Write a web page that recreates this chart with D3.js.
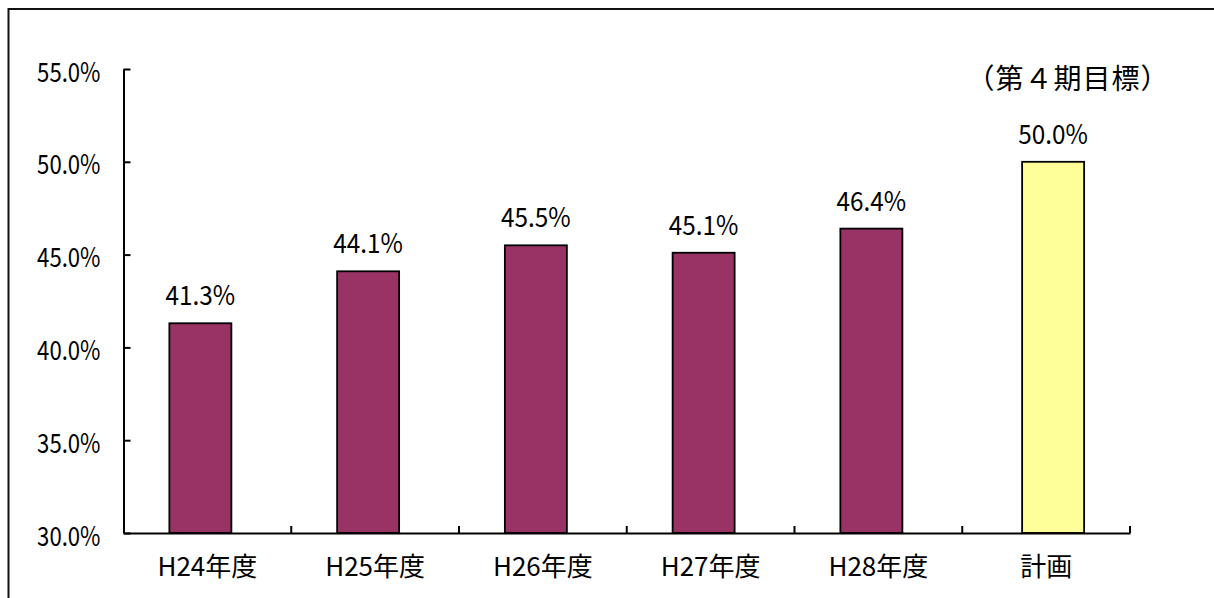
<!DOCTYPE html>
<html><head><meta charset="utf-8">
<script src="https://cdn.jsdelivr.net/npm/d3@7"></script>
<style>body{margin:0;background:#fff}svg{display:block}</style></head>
<body><svg id="c" width="1214" height="598"></svg>
<script>
const categories = ["H24年度","H25年度","H26年度","H27年度","H28年度","計画"];
const actualValues = [41.3, 44.1, 45.5, 45.1, 46.4, null];
const planValues = [null, null, null, null, null, 50.0];
const yTicks = [30, 35, 40, 45, 50, 55];
const planNote = "（第４期目標）";

const FONT = "'Noto Sans CJK JP', 'Noto Sans', sans-serif";
const svg = d3.select("#c");

// outer frame (extends past the right and bottom edges)
svg.append("rect").attr("x", 8.5).attr("y", 9).attr("width", 1400).attr("height", 800)
  .attr("fill", "none").attr("stroke", "#111").attr("stroke-width", 2);

const x = d3.scaleBand().domain(categories).range([123.5, 1130]).padding(0);
const y = d3.scaleLinear().domain([30, 55]).range([533, 69]);
const barW = 62;
const seriesOffset = {actual: -7, plan: 7};

// y axis
const yAxis = svg.append("g").attr("transform", "translate(123.5,0)")
  .call(d3.axisLeft(y).tickValues(yTicks).tickSizeInner(-7).tickSizeOuter(0).tickPadding(23)
    .tickFormat(d => d.toFixed(1) + "%"));
yAxis.selectAll("path,line").attr("stroke", "#000").attr("stroke-width", 2);
yAxis.selectAll("text").attr("font-family", FONT).attr("font-size", 27).attr("fill", "#000").attr("dy", 12);

// bars
function drawSeries(vals, key, fill) {
  const data = categories.map((c, i) => ({c, v: vals[i]})).filter(d => d.v != null);
  svg.append("g").selectAll("rect").data(data).join("rect")
    .attr("x", d => x(d.c) + x.bandwidth() / 2 + seriesOffset[key] - barW / 2)
    .attr("y", d => y(d.v))
    .attr("width", barW)
    .attr("height", d => y(30) - y(d.v))
    .attr("fill", fill).attr("stroke", "#000").attr("stroke-width", 1.8);
  svg.append("g").selectAll("text").data(data).join("text")
    .attr("class", "vlab")
    .attr("x", d => x(d.c) + x.bandwidth() / 2 + seriesOffset[key])
    .attr("y", d => y(d.v) - 18)
    .attr("text-anchor", "middle")
    .attr("font-family", FONT).attr("font-size", 27).attr("fill", "#000")
    .text(d => d.v.toFixed(1) + "%");
}
drawSeries(actualValues, "actual", "#993366");
drawSeries(planValues, "plan", "#FFFF99");

// x axis
const xAxis = svg.append("g").attr("transform", "translate(0,533)")
  .call(d3.axisBottom(x).tickSizeInner(0).tickSizeOuter(0).tickPadding(25));
xAxis.selectAll("path").attr("stroke", "#000").attr("stroke-width", 2);
xAxis.selectAll("text").attr("font-family", FONT).attr("font-size", 26).attr("fill", "#000");
xAxis.selectAll("line").remove();
xAxis.append("g").selectAll("line").data(categories).join("line")
  .attr("x1", d => x(d) + x.bandwidth()).attr("x2", d => x(d) + x.bandwidth())
  .attr("y1", 0).attr("y2", -7).attr("stroke", "#000").attr("stroke-width", 2);

// note above plan bar
svg.append("text")
  .attr("x", x("計画") + x.bandwidth() / 2 + 22).attr("y", 89)
  .attr("text-anchor", "middle")
  .attr("font-family", FONT).attr("font-size", 28).attr("letter-spacing", 1).attr("fill", "#000")
  .text(planNote);

// narrow the half-width numerals like the reference font
function squeeze(sel, f) {
  sel.each(function() {
    const w = this.getComputedTextLength();
    d3.select(this).attr("textLength", w * f).attr("lengthAdjust", "spacingAndGlyphs");
  });
}
squeeze(yAxis.selectAll("text"), 0.82);
squeeze(svg.selectAll("text.vlab"), 0.9);
</script></body></html>
